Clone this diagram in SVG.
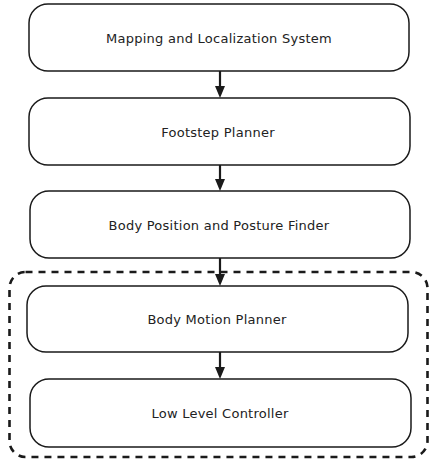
<svg xmlns="http://www.w3.org/2000/svg" width="430" height="461" viewBox="0 0 430 461">
<style>
.box{fill:#fff;stroke:#1a1a1a;stroke-width:1.5}
.lbl{font-family:"DejaVu Sans",Verdana,sans-serif;font-size:13px;fill:#222;text-anchor:middle;letter-spacing:0.25px}
.con{stroke:#1a1a1a;stroke-width:2.2;fill:none}
</style>
<rect id="group" x="9.5" y="272" width="418" height="185" rx="16" fill="none" stroke="#1a1a1a" stroke-width="2.6" stroke-dasharray="7,6"/>
<g id="connectors">
<line class="con" x1="220" y1="71" x2="220" y2="86" />
<path d="M215,86 L225,86 L220,98 Z" fill="#1a1a1a"/>
<line class="con" x1="220" y1="165" x2="220" y2="179"/>
<path d="M215,179 L225,179 L220,191 Z" fill="#1a1a1a"/>
<line class="con" x1="220" y1="258" x2="220" y2="274"/>
<path d="M215,274 L225,274 L220,286 Z" fill="#1a1a1a"/>
<line class="con" x1="220" y1="352" x2="220" y2="367"/>
<path d="M215,367 L225,367 L220,379 Z" fill="#1a1a1a"/>
</g>
<g id="n1"><rect class="box" x="29" y="4" width="380" height="67" rx="19"/><text class="lbl" x="219" y="42.5">Mapping and Localization System</text></g>
<g id="n2"><rect class="box" x="29" y="98" width="381" height="67" rx="19"/><text class="lbl" x="218" y="136.5">Footstep Planner</text></g>
<g id="n3"><rect class="box" x="30" y="191" width="380" height="67" rx="19"/><text class="lbl" x="219" y="229.5">Body Position and Posture Finder</text></g>
<g id="n4"><rect class="box" x="27" y="286" width="381" height="66" rx="19"/><text class="lbl" x="217" y="324">Body Motion Planner</text></g>
<g id="n5"><rect class="box" x="30" y="379" width="381" height="68" rx="19"/><text class="lbl" x="220" y="418">Low Level Controller</text></g>
</svg>
